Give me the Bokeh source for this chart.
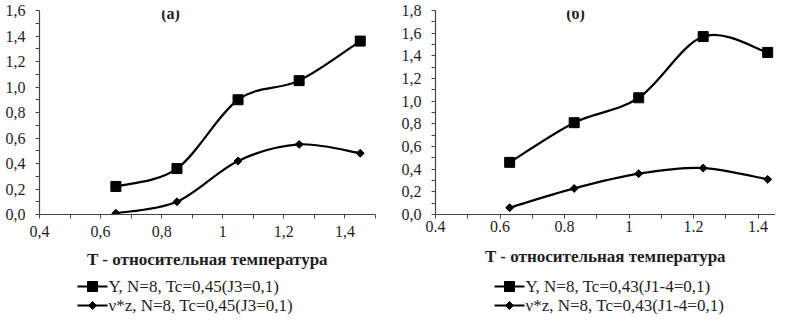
from bokeh.plotting import figure
from bokeh.models import FixedTicker, Label, Range1d
from bokeh.layouts import row, column
from bokeh.core.properties import value
from bokeh.embed import file_html
from bokeh.resources import INLINE

# ---- data ----
left_T = [0.65, 0.85, 1.05, 1.25, 1.45]
left_Y = [0.22, 0.36, 0.90, 1.05, 1.36]
left_vz = [0.01, 0.10, 0.42, 0.55, 0.48]

right_T = [0.63, 0.83, 1.03, 1.23, 1.43]
right_Y = [0.46, 0.81, 1.03, 1.57, 1.43]
right_vz = [0.06, 0.23, 0.36, 0.41, 0.31]

x_ticks = [0.4, 0.6, 0.8, 1.0, 1.2, 1.4]
x_minor = [0.5, 0.7, 0.9, 1.1, 1.3, 1.5]
left_x_labels = ["0,4", "0,6", "0,8", "1", "1,2", "1,4"]
right_x_labels = ["0.4", "0.6", "0.8", "1", "1.2", "1.4"]

left_y_ticks = [0.0, 0.2, 0.4, 0.6, 0.8, 1.0, 1.2, 1.4, 1.6]
left_y_labels = ["0,0", "0,2", "0,4", "0,6", "0,8", "1,0", "1,2", "1,4", "1,6"]
right_y_ticks = [0.0, 0.2, 0.4, 0.6, 0.8, 1.0, 1.2, 1.4, 1.6, 1.8]
right_y_labels = ["0,0", "0,2", "0,4", "0,6", "0,8", "1,0", "1,2", "1,4", "1,6", "1,8"]

left_names = ["Y, N=8, Tc=0,45(J3=0,1)", "\u03bd*z, N=8, Tc=0,45(J3=0,1)"]
right_names = ["Y, N=8, Tc=0,43(J1-4=0,1)", "\u03bd*z, N=8, Tc=0,43(J1-4=0,1)"]
x_title = "T - относительная температура"

FONT = "Liberation Serif"
INK = "#1e1e1e"
AXIS = "#444444"
MAIN_H = 276
LEG_H = 38
TOP = 10
SQ_SIZE = 10
DM_SIZE = 5.6
DM_ANGLE = 0.785398
LW = 2.2


def smooth_segments(xs, ys, t=1.0 / 6.0):
    """Bezier control points for an Excel-like smoothed line through the data."""
    n = len(xs)
    seg = dict(x0=[], y0=[], x1=[], y1=[], cx0=[], cy0=[], cx1=[], cy1=[])
    for i in range(n - 1):
        a = max(i - 1, 0)
        b = min(i + 2, n - 1)
        seg["x0"].append(xs[i]); seg["y0"].append(ys[i])
        seg["x1"].append(xs[i + 1]); seg["y1"].append(ys[i + 1])
        seg["cx0"].append(xs[i] + (xs[i + 1] - xs[a]) * t)
        seg["cy0"].append(ys[i] + (ys[i + 1] - ys[a]) * t)
        seg["cx1"].append(xs[i + 1] - (xs[b] - xs[i]) * t)
        seg["cy1"].append(ys[i + 1] - (ys[b] - ys[i]) * t)
    return seg


def panel(T, Y, VZ, xlabels, yticks, ylabels, title, xend, ytop,
          width, frame_left, frame_right, frame_h, title_pos,
          label_standoff, title_standoff):
    p = figure(width=width, height=MAIN_H, output_backend="svg", toolbar_location=None,
               x_range=Range1d(0.4, xend), y_range=Range1d(0.0, ytop),
               min_border_left=frame_left, min_border_right=frame_right,
               min_border_top=TOP, min_border_bottom=MAIN_H - TOP - frame_h)
    p.outline_line_color = None
    p.grid.visible = False
    p.background_fill_color = "white"
    p.border_fill_color = "white"

    for vals in (Y, VZ):
        s = smooth_segments(T, vals)
        p.bezier(x0=s["x0"], y0=s["y0"], x1=s["x1"], y1=s["y1"],
                 cx0=s["cx0"], cy0=s["cy0"], cx1=s["cx1"], cy1=s["cy1"],
                 line_color="black", line_width=LW)

    p.scatter(T, Y, marker="square", size=SQ_SIZE, fill_color="black", line_color="black")
    p.scatter(T, VZ, marker="square", size=DM_SIZE, angle=DM_ANGLE,
              fill_color="black", line_color="black")

    xa = p.xaxis[0]
    xa.ticker = FixedTicker(ticks=x_ticks, minor_ticks=x_minor)
    xa.major_label_overrides = {t: l for t, l in zip(x_ticks, xlabels)}
    ya = p.yaxis[0]
    ya.ticker = FixedTicker(ticks=yticks,
                            minor_ticks=[round(v + 0.1, 2) for v in yticks[:-1]])
    ya.major_label_overrides = {t: l for t, l in zip(yticks, ylabels)}
    for ax in (xa, ya):
        ax.axis_line_color = AXIS
        ax.axis_line_width = 1.2
        ax.major_tick_line_color = AXIS
        ax.minor_tick_line_color = AXIS
        ax.major_tick_in = 0
        ax.major_tick_out = 4
        ax.minor_tick_in = 0
        ax.minor_tick_out = 4
        ax.major_label_text_font = FONT
        ax.major_label_text_font_size = "16px"
        ax.major_label_text_color = INK
    xa.major_label_standoff = label_standoff
    ya.major_label_standoff = 10
    xa.axis_label = x_title
    xa.axis_label_text_font = FONT
    xa.axis_label_text_font_style = "bold"
    xa.axis_label_text_font_size = "17px"
    xa.axis_label_text_color = INK
    xa.axis_label_standoff = title_standoff

    p.add_layout(Label(x=title_pos[0], y=title_pos[1], text=title, text_font=FONT,
                       text_font_style="bold", text_font_size="16px", text_color=INK,
                       text_align="center", text_baseline="middle"))
    return p


def legend_fig(width, names, lx):
    """Legend rows drawn below the axis title (pixel coordinates, y downward)."""
    q = figure(width=width, height=LEG_H, output_backend="svg", toolbar_location=None,
               x_range=Range1d(0, width), y_range=Range1d(LEG_H, 0),
               min_border=0, min_border_left=0, min_border_right=0,
               min_border_top=0, min_border_bottom=0)
    q.axis.visible = False
    q.grid.visible = False
    q.outline_line_color = None
    rows_y = [10, 29]
    q.segment(x0=[lx, lx], y0=rows_y, x1=[lx + 30, lx + 30], y1=rows_y,
              line_color="black", line_width=LW)
    q.scatter([lx + 15], [rows_y[0]], marker="square", size=SQ_SIZE,
              fill_color="black", line_color="black")
    q.scatter([lx + 15], [rows_y[1]], marker="square", size=DM_SIZE, angle=DM_ANGLE,
              fill_color="black", line_color="black")
    q.text(x=[lx + 31, lx + 31], y=rows_y, text=names, text_font=value(FONT),
           text_font_size="17px", text_color=INK, text_align="left",
           text_baseline="middle")
    return q


p1 = panel(left_T, left_Y, left_vz, left_x_labels, left_y_ticks, left_y_labels,
           "(a)", 1.5, 1.6, 390, 39, 15, 204, (0.829, 1.576), 7, 10)
p2 = panel(right_T, right_Y, right_vz, right_x_labels, right_y_ticks, right_y_labels,
           "(б)", 0.4 + 340 / 322.5, 1.8, 385, 45, 0, 207, (0.834, 1.774), 2, 12)
g1 = legend_fig(390, left_names, 77)
g2 = legend_fig(385, right_names, 104)

layout = column(row(p1, p2), row(g1, g2))
open("out.html", "w").write(file_html(layout, INLINE))
